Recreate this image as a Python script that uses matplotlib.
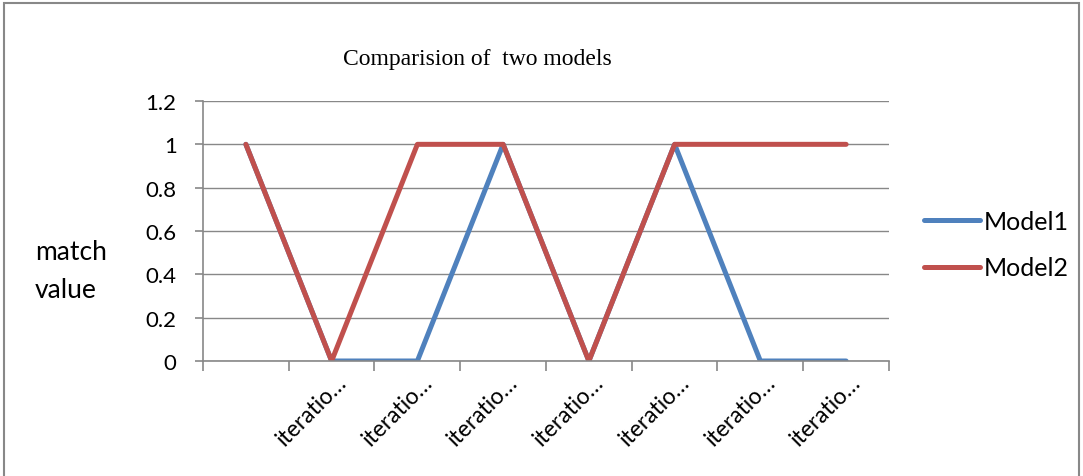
import matplotlib
matplotlib.use("Agg")
import matplotlib.pyplot as plt
from matplotlib.patches import Rectangle
from matplotlib.transforms import ScaledTranslation

categories = ["", "iteratio…", "iteratio…", "iteratio…", "iteratio…", "iteratio…", "iteratio…", "iteratio…"]
model1 = [1, 0, 0, 1, 0, 1, 0, 0]
model2 = [1, 0, 1, 1, 0, 1, 1, 1]
yticks = [0, 0.2, 0.4, 0.6, 0.8, 1, 1.2]
ytick_labels = ["0", "0.2", "0.4", "0.6", "0.8", "1", "1.2"]

sans = ["Lato", "DejaVu Sans"]
fig = plt.figure(figsize=(10.83, 4.77), dpi=100)
ax = fig.add_axes([203/1083, 1-362/477, (889-203)/1083, (362-102)/477])

x = list(range(len(categories)))
ax.plot(x, model1, color="#4F81BD", lw=3.6, label="Model1", solid_capstyle="round")
ax.plot(x, model2, color="#C0504D", lw=3.6, label="Model2", solid_capstyle="round")

ax.set_xlim(-0.5, len(categories) - 0.5)
ax.set_ylim(0, 1.2)
ax.set_yticks(yticks)
ax.set_yticklabels(ytick_labels, family=sans, fontsize=16)
ax.yaxis.grid(True, color="#888888", lw=1)
ax.set_axisbelow(True)
for s in ["top", "right"]:
    ax.spines[s].set_visible(False)
for s in ["left", "bottom"]:
    ax.spines[s].set_color("#888888")
    ax.spines[s].set_linewidth(1.2)
ax.tick_params(axis="y", length=6, color="#888888", width=1.2, pad=13)

ax.set_xticks(x)
ax.set_xticklabels(categories, family=sans, fontsize=16.5, rotation=45,
                   ha="right", va="top", rotation_mode="anchor")
ax.set_xticks([i - 0.5 for i in range(len(categories) + 1)], minor=True)
ax.tick_params(axis="x", which="major", length=0, pad=7)
ax.tick_params(axis="x", which="minor", length=7, color="#888888", width=1.2)
off = ScaledTranslation(4/100, 0, fig.dpi_scale_trans)
for lab in ax.get_xticklabels():
    lab.set_transform(lab.get_transform() + off)

fig.text(477/1083, 1-59/477, "Comparision of  two models", family=["Liberation Serif"],
         fontsize=17, ha="center", va="center")
fig.text(35/1083, 1-253/477, "match", family=sans, fontsize=19, ha="left", va="center")
fig.text(35/1083, 1-290/477, "value", family=sans, fontsize=19, ha="left", va="center")

leg = fig.legend(loc="center left", bbox_to_anchor=(901/1083, 1-245.5/477), frameon=False,
                 prop={"family": sans, "size": 18}, handlelength=2.25, handletextpad=0.15,
                 labelspacing=0.95)

fig.add_artist(Rectangle((4/1083, -0.05), (1079-4)/1083, 1.05 - 4/477, transform=fig.transFigure,
                         fill=False, edgecolor="#888888", lw=1.5))

fig.savefig("out.png", dpi=100)
